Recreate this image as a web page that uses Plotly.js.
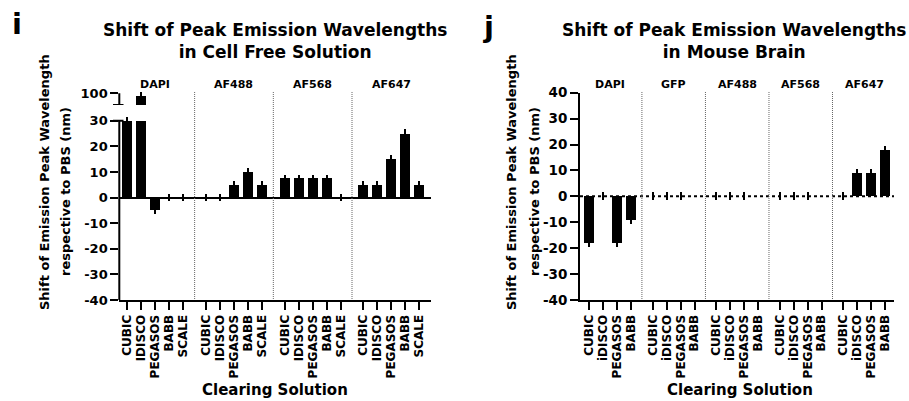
<!DOCTYPE html>
<html>
<head>
<meta charset="utf-8">
<script src="https://cdn.plot.ly/plotly-3.0.1.min.js"></script>
<style>html,body{margin:0;padding:0;background:#fff;}#chart{width:909px;height:401px;}</style>
</head>
<body>
<div id="chart"></div>
<script>
// ---------- data ----------
var leftGroups = ['DAPI', 'AF488', 'AF568', 'AF647'];
var leftSolutions = ['CUBIC', 'IDISCO', 'PEGASOS', 'BABB', 'SCALE'];
var leftShiftDAPI  = [30, 97, -5, 0, 0];
var leftShiftAF488 = [0, 0, 5, 10, 5];
var leftShiftAF568 = [7.5, 7.5, 7.5, 7.5, 0];
var leftShiftAF647 = [5, 5, 15, 25, 5];
var leftErrDAPI  = [1.5, 5, 1.5, 1.5, 1.5];
var leftErrAF488 = [1.5, 1.5, 1.5, 1.7, 1.5];
var leftErrAF568 = [1.5, 1.5, 1.5, 1.5, 1.5];
var leftErrAF647 = [1.5, 1.5, 1.5, 1.6, 1.5];

var rightGroups = ['DAPI', 'GFP', 'AF488', 'AF568', 'AF647'];
var rightSolutions = ['CUBIC', 'iDISCO', 'PEGASOS', 'BABB'];
var rightShiftDAPI  = [-18, 0, -18, -9];
var rightShiftGFP   = [0, 0, 0, 0];
var rightShiftAF488 = [0, 0, 0, 0];
var rightShiftAF568 = [0, 0, 0, 0];
var rightShiftAF647 = [0, 9, 9, 18];
var rightErrDAPI  = [1.6, 1.5, 1.6, 1.5];
var rightErrGFP   = [1.5, 1.5, 1.5, 0];
var rightErrAF488 = [1.5, 1.5, 1.5, 0];
var rightErrAF568 = [1.5, 1.5, 1.5, 0];
var rightErrAF647 = [1.5, 1.5, 1.5, 1.6];

var leftYTicks = [-40, -30, -20, -10, 0, 10, 20, 30];
var leftYTopTicks = [100];
var rightYTicks = [-40, -30, -20, -10, 0, 10, 20, 30, 40];

// ---------- layout helpers ----------
var W = 909, H = 401;
function PX(p) { return p / W; }
function PY(p) { return 1 - p / H; }

var BREAK_LO = 30;       // top of lower segment (left panel)
var TOP_MIN = 85;        // bottom of upper segment (left panel)

var LSTRIDE = 5.62, RSTRIDE = 4.57;

var leftVals = [leftShiftDAPI, leftShiftAF488, leftShiftAF568, leftShiftAF647];
var leftErrs = [leftErrDAPI, leftErrAF488, leftErrAF568, leftErrAF647];
var rightVals = [rightShiftDAPI, rightShiftGFP, rightShiftAF488, rightShiftAF568, rightShiftAF647];
var rightErrs = [rightErrDAPI, rightErrGFP, rightErrAF488, rightErrAF568, rightErrAF647];

var lx = [], lyLow = [], leLow = [], lyTop = [], leTop = [], lTickText = [];
leftVals.forEach(function (arr, g) {
  arr.forEach(function (v, i) {
    lx.push(g * LSTRIDE + i);
    lTickText.push(leftSolutions[i]);
    var broken = v > BREAK_LO;
    lyLow.push(broken ? BREAK_LO : v);
    leLow.push(broken ? 0 : leftErrs[g][i]);
    lyTop.push(broken ? v : null);
    leTop.push(broken ? leftErrs[g][i] : 0);
  });
});

var rx = [], ry = [], re = [], rTickText = [];
rightVals.forEach(function (arr, g) {
  arr.forEach(function (v, i) {
    rx.push(g * RSTRIDE + i);
    rTickText.push(rightSolutions[i]);
    ry.push(v);
    re.push(rightErrs[g][i]);
  });
});

var BW = 0.7;
function errObj(arr) {
  return { type: 'data', array: arr, visible: true, color: '#000', thickness: 2, width: 0 };
}

var traces = [
  { type: 'bar', x: lx, y: lyLow, xaxis: 'x', yaxis: 'y', width: BW,
    marker: { color: '#000', line: { width: 0 } }, error_y: errObj(leLow), hoverinfo: 'x+y' },
  { type: 'bar', x: lx, y: lyTop, xaxis: 'x', yaxis: 'y3', width: BW,
    marker: { color: '#000', line: { width: 0 } }, error_y: errObj(leTop), hoverinfo: 'x+y' },
  { type: 'bar', x: rx, y: ry, xaxis: 'x2', yaxis: 'y2', width: BW,
    marker: { color: '#000', line: { width: 0 } }, error_y: errObj(re), hoverinfo: 'x+y' }
];

var DV = 'DejaVu Sans';
function f(fam, size) { return { family: fam, size: size, color: '#000', weight: 'bold' }; }
function hyphen(v) { return String(v); }   // plain hyphen-minus like the reference

var xTickFont = f(DV, 12);

var layout = {
  width: W, height: H,
  margin: { l: 0, r: 0, t: 0, b: 0 },
  paper_bgcolor: '#fff', plot_bgcolor: 'rgba(0,0,0,0)',
  showlegend: false,
  bargap: 0,
  xaxis: {
    domain: [PX(119.3), PX(430.7)], anchor: 'y',
    range: [-0.57, 3 * LSTRIDE + 4 + 0.81],
    tickmode: 'array', tickvals: lx, ticktext: lTickText, tickangle: -90,
    ticks: 'outside', ticklen: 8, tickwidth: 2, tickcolor: '#000',
    showline: true, linewidth: 2, linecolor: '#000',
    showgrid: false, zeroline: false, tickfont: xTickFont, fixedrange: true
  },
  yaxis: {
    domain: [PY(300), PY(300 - 72 * 2.561)], anchor: 'x',
    range: [-40, 32],
    tickmode: 'array', tickvals: leftYTicks, ticktext: leftYTicks.map(hyphen),
    ticks: 'outside', ticklen: 8, tickwidth: 2, tickcolor: '#000',
    showline: false, showgrid: false,
    zeroline: true, zerolinecolor: '#000', zerolinewidth: 2,
    tickfont: f(DV, 13), fixedrange: true
  },
  yaxis3: {
    domain: [PY(105), PY(105 - 17.5 * 0.78)], anchor: 'x',
    range: [TOP_MIN, 102.5],
    tickmode: 'array', tickvals: leftYTopTicks, ticktext: leftYTopTicks.map(hyphen),
    ticks: 'outside', ticklen: 8, tickwidth: 2, tickcolor: '#000',
    showline: false, showgrid: false, zeroline: false,
    tickfont: f(DV, 13), fixedrange: true
  },
  xaxis2: {
    domain: [PX(580), PX(894)], anchor: 'y2',
    range: [-0.67, 4 * RSTRIDE + 3 + 0.64],
    tickmode: 'array', tickvals: rx, ticktext: rTickText, tickangle: -90,
    ticks: 'outside', ticklen: 8, tickwidth: 2, tickcolor: '#000',
    showline: true, linewidth: 2, linecolor: '#000',
    showgrid: false, zeroline: false, tickfont: xTickFont, fixedrange: true
  },
  yaxis2: {
    domain: [PY(300), PY(92.7)], anchor: 'x2',
    range: [-40, 40],
    tickmode: 'array', tickvals: rightYTicks, ticktext: rightYTicks.map(hyphen),
    ticks: 'outside', ticklen: 8, tickwidth: 2, tickcolor: '#000',
    showline: true, linewidth: 2, linecolor: '#000',
    showgrid: false, zeroline: false,
    tickfont: f(DV, 13.5), fixedrange: true
  },
  shapes: [],
  annotations: []
};

var S = layout.shapes, A = layout.annotations;

// left broken y axis lines
S.push({ type: 'line', xref: 'x domain', yref: 'y', x0: 0, x1: 0, y0: -40, y1: BREAK_LO, line: { color: '#000', width: 2 } });
S.push({ type: 'line', xref: 'x domain', yref: 'y3', x0: 0, x1: 0, y0: TOP_MIN, y1: 100, line: { color: '#000', width: 2 } });
// break marks
S.push({ type: 'line', xref: 'paper', yref: 'y', x0: PX(113), x1: PX(123.5), y0: BREAK_LO, y1: BREAK_LO, line: { color: '#000', width: 2 } });
S.push({ type: 'line', xref: 'paper', yref: 'y3', x0: PX(113), x1: PX(123.5), y0: TOP_MIN, y1: TOP_MIN, line: { color: '#000', width: 2 } });

// right dotted zero line
S.push({ type: 'line', xref: 'x2 domain', yref: 'y2', x0: 0, x1: 1, y0: 0, y1: 0, layer: 'below', line: { color: '#000', width: 2, dash: 'dot' } });

// group separators
for (var g = 0; g < leftGroups.length - 1; g++) {
  var xs = g * LSTRIDE + (leftSolutions.length - 1) + (LSTRIDE - (leftSolutions.length - 1)) / 2;
  S.push({ type: 'line', xref: 'x', yref: 'paper', x0: xs, x1: xs, y0: PY(299), y1: PY(91), line: { color: '#666', width: 1, dash: '1px,1px' } });
}
for (var g2 = 0; g2 < rightGroups.length - 1; g2++) {
  var xs2 = g2 * RSTRIDE + (rightSolutions.length - 1) + (RSTRIDE - (rightSolutions.length - 1)) / 2;
  S.push({ type: 'line', xref: 'x2', yref: 'paper', x0: xs2, x1: xs2, y0: PY(299), y1: PY(91), line: { color: '#666', width: 1, dash: '1px,1px' } });
}

// group labels
leftGroups.forEach(function (name, g) {
  A.push({ xref: 'x', yref: 'paper', x: g * LSTRIDE + (leftSolutions.length - 1) / 2, y: PY(84.5),
    text: name, showarrow: false, xanchor: 'center', yanchor: 'middle', font: f(DV, 11) });
});
rightGroups.forEach(function (name, g) {
  A.push({ xref: 'x2', yref: 'paper', x: g * RSTRIDE + (rightSolutions.length - 1) / 2, y: PY(84.5),
    text: name, showarrow: false, xanchor: 'center', yanchor: 'middle', font: f(DV, 11) });
});

// titles
A.push({ xref: 'paper', yref: 'paper', x: PX(275), y: PY(41.5), text: 'Shift of Peak Emission Wavelengths<br>in Cell Free Solution',
  showarrow: false, xanchor: 'center', yanchor: 'middle', align: 'center', font: f(DV, 17) });
A.push({ xref: 'paper', yref: 'paper', x: PX(734), y: PY(41.5), text: 'Shift of Peak Emission Wavelengths<br>in Mouse Brain',
  showarrow: false, xanchor: 'center', yanchor: 'middle', align: 'center', font: f(DV, 17) });

// panel letters
A.push({ xref: 'paper', yref: 'paper', x: PX(16.5), y: PY(24), text: 'i', showarrow: false, xanchor: 'center', yanchor: 'middle', font: f(DV, 29) });
A.push({ xref: 'paper', yref: 'paper', x: PX(489), y: PY(27), text: 'j', showarrow: false, xanchor: 'center', yanchor: 'middle', font: f(DV, 29) });

// x axis titles
A.push({ xref: 'paper', yref: 'paper', x: PX(275), y: PY(390), text: 'Clearing Solution', showarrow: false, xanchor: 'center', yanchor: 'middle', font: f(DV, 15) });
A.push({ xref: 'paper', yref: 'paper', x: PX(740), y: PY(390), text: 'Clearing Solution', showarrow: false, xanchor: 'center', yanchor: 'middle', font: f(DV, 15) });

// y axis titles
function yTitle(xc, yc, line) {
  A.push({ xref: 'paper', yref: 'paper', x: PX(xc), y: PY(yc), text: line, textangle: -90, showarrow: false,
    xanchor: 'center', yanchor: 'middle', font: f(DV, 13) });
}
yTitle(45, 182, 'Shift of Emission Peak Wavelength');
yTitle(66, 192, 'respective to PBS (nm)');
yTitle(512, 182, 'Shift of Emission Peak Wavelength');
yTitle(535, 192, 'respective to PBS (nm)');

Plotly.newPlot('chart', traces, layout, { displayModeBar: false, staticPlot: true });
</script>
</body>
</html>
